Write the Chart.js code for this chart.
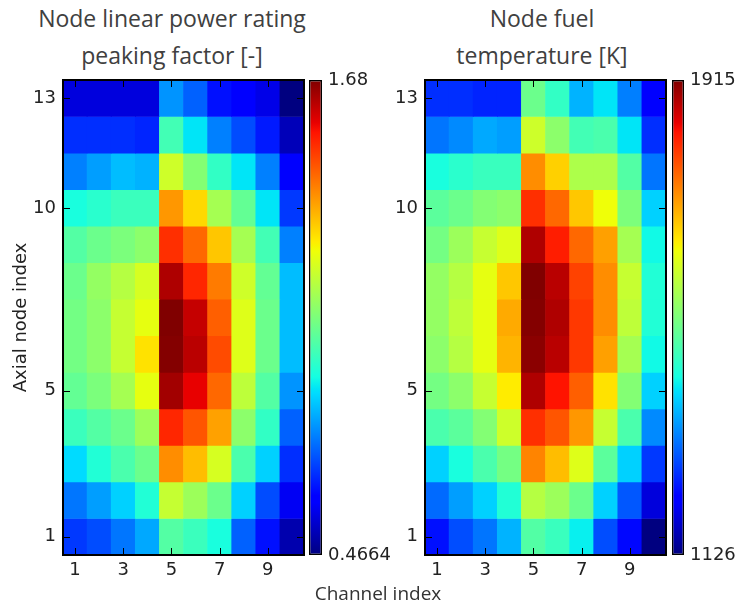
<!DOCTYPE html>
<html>
<head>
<meta charset="utf-8">
<title>Node power and fuel temperature maps</title>
<script src="https://cdn.jsdelivr.net/npm/chart.js@4.4.1/dist/chart.umd.min.js"></script>
<style>
  body { margin: 0; background: #fff; }
  #fig { position: relative; width: 735px; height: 605px; overflow: hidden; background: #fff; }
  canvas { position: absolute; }
  .ttl {
    position: absolute; top: 0; transform: translateX(-50%);
    white-space: nowrap; text-align: center;
    font-family: 'Open Sans', sans-serif; font-size: 23px; line-height: 37px; color: #404040;
  }
  #xlab {
    position: absolute; left: 378px; top: 580px; transform: translateX(-50%);
    white-space: nowrap; font-family: 'Open Sans', sans-serif; font-size: 19px; line-height: 26px; color: #333;
  }
</style>
</head>
<body>
<div id="fig">
  <div class="ttl" style="left:172px">Node linear power rating<br>peaking factor [-]</div>
  <div class="ttl" style="left:542px">Node fuel<br>temperature [K]</div>
  <canvas id="powerMap" width="310" height="545" style="left:0;top:60px"></canvas>
  <canvas id="powerBar" width="100" height="545" style="left:300px;top:60px"></canvas>
  <canvas id="tempMap" width="310" height="545" style="left:362px;top:60px"></canvas>
  <canvas id="tempBar" width="72" height="545" style="left:663px;top:60px"></canvas>
  <div id="xlab">Channel index</div>
</div>
<script>
// channels along x, axial nodes listed top (13) to bottom (1)
const channels = [1, 2, 3, 4, 5, 6, 7, 8, 9, 10];
const axialNodes = [13, 12, 11, 10, 9, 8, 7, 6, 5, 4, 3, 2, 1];
const channelTicks = [1, 3, 5, 7, 9];
const nodeTicks = [1, 5, 10, 13];

// linear power peaking factor, one row per axial node
const powerRows = [
  [0.564, 0.564, 0.564, 0.564, 0.794, 0.733, 0.636, 0.612, 0.576, 0.4664],
  [0.673, 0.673, 0.673, 0.661, 0.988, 0.891, 0.770, 0.709, 0.648, 0.527],
  [0.770, 0.806, 0.843, 0.830, 1.195, 1.085, 0.964, 0.891, 0.770, 0.612],
  [0.928, 0.952, 0.976, 0.976, 1.377, 1.292, 1.134, 1.037, 0.891, 0.685],
  [1.013, 1.049, 1.073, 1.097, 1.510, 1.437, 1.316, 1.134, 0.988, 0.770],
  [1.049, 1.110, 1.158, 1.207, 1.631, 1.522, 1.413, 1.195, 1.037, 0.843],
  [1.061, 1.097, 1.182, 1.231, 1.680, 1.607, 1.449, 1.219, 1.049, 0.843],
  [1.061, 1.097, 1.182, 1.280, 1.675, 1.619, 1.474, 1.219, 1.049, 0.843],
  [1.037, 1.073, 1.134, 1.231, 1.644, 1.571, 1.437, 1.170, 1.013, 0.794],
  [0.976, 1.013, 1.049, 1.122, 1.522, 1.462, 1.364, 1.097, 0.964, 0.733],
  [0.879, 0.940, 1.000, 1.049, 1.389, 1.328, 1.207, 1.000, 0.867, 0.673],
  [0.758, 0.806, 0.867, 0.940, 1.182, 1.122, 1.049, 0.867, 0.709, 0.588],
  [0.685, 0.709, 0.758, 0.818, 1.013, 0.976, 0.928, 0.733, 0.636, 0.515]
];
const powerMin = 0.4664;
const powerMax = 1.68;

// fuel temperature [K]
const tempRows = [
  [1260, 1260, 1252, 1252, 1505, 1450, 1363, 1402, 1323, 1221],
  [1315, 1331, 1355, 1347, 1599, 1536, 1465, 1473, 1402, 1260],
  [1426, 1442, 1457, 1457, 1726, 1670, 1568, 1568, 1481, 1315],
  [1489, 1505, 1528, 1536, 1805, 1757, 1678, 1631, 1521, 1386],
  [1513, 1552, 1592, 1615, 1883, 1820, 1757, 1710, 1560, 1418],
  [1544, 1576, 1623, 1678, 1915, 1876, 1789, 1726, 1592, 1434],
  [1544, 1584, 1623, 1702, 1912, 1883, 1797, 1726, 1584, 1434],
  [1536, 1576, 1623, 1694, 1907, 1876, 1797, 1710, 1560, 1418],
  [1513, 1536, 1592, 1647, 1883, 1828, 1765, 1655, 1528, 1386],
  [1473, 1489, 1528, 1599, 1805, 1773, 1718, 1592, 1473, 1331],
  [1386, 1426, 1473, 1513, 1734, 1686, 1615, 1489, 1386, 1268],
  [1307, 1347, 1386, 1434, 1576, 1552, 1505, 1386, 1292, 1189],
  [1236, 1284, 1315, 1363, 1481, 1457, 1410, 1284, 1229, 1126]
];
const tempMin = 1126;
const tempMax = 1915;

// matplotlib "jet" segments
const jetSeg = {
  r: [[0, 0], [0.35, 0], [0.66, 1], [0.89, 1], [1, 0.5]],
  g: [[0, 0], [0.125, 0], [0.375, 1], [0.64, 1], [0.91, 0], [1, 0]],
  b: [[0, 0.5], [0.11, 1], [0.34, 1], [0.65, 0], [1, 0]]
};
const jetStops = [0, 0.11, 0.125, 0.34, 0.35, 0.375, 0.64, 0.65, 0.66, 0.89, 0.91, 1];

function seg(pts, t) {
  for (let i = 1; i < pts.length; i++) {
    if (t <= pts[i][0]) {
      const [x0, y0] = pts[i - 1], [x1, y1] = pts[i];
      return y0 + (y1 - y0) * (t - x0) / (x1 - x0);
    }
  }
  return pts[pts.length - 1][1];
}
function jet(t) {
  t = Math.min(1, Math.max(0, t));
  const c = k => Math.round(255 * seg(jetSeg[k], t));
  return `rgb(${c('r')},${c('g')},${c('b')})`;
}

const tickFont = { family: 'DejaVu Sans', size: 18 };
const tickColor = '#222';

// black frame plus matplotlib-style inward ticks on all four sides
const frameTicks = {
  id: 'frameTicks',
  afterDatasetsDraw(chart) {
    const { ctx, chartArea: a, scales: { x, y } } = chart;
    const len = 7;
    ctx.save();
    ctx.strokeStyle = '#000';
    ctx.lineWidth = 1;
    ctx.beginPath();
    x.ticks.forEach(t => {
      const px = Math.round(x.getPixelForValue(t.value)) + 0.5;
      ctx.moveTo(px, a.top); ctx.lineTo(px, a.top + len);
      ctx.moveTo(px, a.bottom); ctx.lineTo(px, a.bottom - len);
    });
    y.ticks.forEach(t => {
      const py = Math.round(y.getPixelForValue(t.value)) + 0.5;
      ctx.moveTo(a.left, py); ctx.lineTo(a.left + len, py);
      ctx.moveTo(a.right, py); ctx.lineTo(a.right - len, py);
    });
    ctx.stroke();
    ctx.lineWidth = 2;
    ctx.strokeRect(a.left, a.top, a.right - a.left, a.bottom - a.top);
    ctx.restore();
  }
};

function heatmap(id, rows, vmin, vmax, yTitle) {
  const datasets = rows.map((vals, i) => {
    const node = axialNodes[i];
    return {
      data: vals.map((v, j) => ({ x: channels[j], y: [node - 0.5, node + 0.5] })),
      backgroundColor: vals.map(v => jet((v - vmin) / (vmax - vmin))),
      grouped: false,
      barPercentage: 1,
      categoryPercentage: 1,
      borderWidth: 0
    };
  });
  return new Chart(document.getElementById(id), {
    type: 'bar',
    data: { datasets },
    options: {
      responsive: false,
      animation: false,
      layout: { padding: { left: 0, top: 20, right: 6, bottom: 0 } },
      plugins: { legend: { display: false }, tooltip: { enabled: false } },
      scales: {
        x: {
          type: 'linear', min: 0.5, max: 10.5, offset: false,
          grid: { display: false, drawTicks: false }, border: { display: false },
          afterBuildTicks: s => { s.ticks = channelTicks.map(v => ({ value: v })); },
          afterFit: s => { s.height = 50; },
          ticks: { padding: 5, color: tickColor, font: tickFont, callback: v => String(v) }
        },
        y: {
          type: 'linear', min: 0.5, max: 13.5,
          grid: { display: false, drawTicks: false }, border: { display: false },
          afterBuildTicks: s => { s.ticks = nodeTicks.map(v => ({ value: v })); },
          afterFit: s => { s.width = 63; },
          ticks: { padding: 7, color: tickColor, font: tickFont, callback: v => String(v) },
          title: {
            display: !!yTitle, text: yTitle || '', color: tickColor, font: tickFont,
            padding: { top: 11, bottom: 0 }
          }
        }
      }
    },
    plugins: [frameTicks]
  });
}

function colorbar(id, vmin, vmax, axisWidth) {
  const gradient = chart => {
    const a = chart.chartArea;
    if (!a) return '#000080';
    const g = chart.ctx.createLinearGradient(0, a.bottom, 0, a.top);
    jetStops.forEach(s => g.addColorStop(s, jet(s)));
    return g;
  };
  return new Chart(document.getElementById(id), {
    type: 'bar',
    data: {
      labels: [''],
      datasets: [{
        data: [[vmin, vmax]],
        backgroundColor: c => gradient(c.chart),
        borderColor: '#000',
        borderWidth: 1.5,
        borderSkipped: false,
        inflateAmount: 0,
        barPercentage: 1,
        categoryPercentage: 1
      }]
    },
    options: {
      responsive: false,
      animation: false,
      layout: { padding: { left: 9, top: 20, right: 0, bottom: 50 } },
      plugins: { legend: { display: false }, tooltip: { enabled: false } },
      scales: {
        x: { display: false },
        y: {
          position: 'right', min: vmin, max: vmax,
          grid: { display: false, drawTicks: false }, border: { display: false },
          afterBuildTicks: s => { s.ticks = [vmin, vmax].map(v => ({ value: v })); },
          afterFit: s => { s.width = axisWidth; },
          ticks: { padding: 6, color: tickColor, font: tickFont, callback: v => String(v) }
        }
      }
    }
  });
}

heatmap('powerMap', powerRows, powerMin, powerMax, 'Axial node index');
colorbar('powerBar', powerMin, powerMax, 78);
heatmap('tempMap', tempRows, tempMin, tempMax, null);
colorbar('tempBar', tempMin, tempMax, 51);
</script>
</body>
</html>
